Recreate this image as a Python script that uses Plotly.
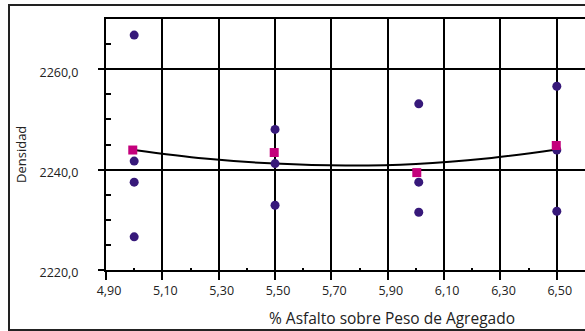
import plotly.graph_objects as go

# Individual densities (circles)
x_pts = [5.00, 5.00, 5.00, 5.00, 5.50, 5.50, 5.50, 6.01, 6.01, 6.01, 6.50, 6.50, 6.50]
y_pts = [2266.8, 2241.7, 2237.5, 2226.6, 2248.0, 2241.2, 2232.9, 2253.1, 2237.5, 2231.5, 2256.6, 2243.9, 2231.7]

# Average densities (squares)
x_avg = [4.995, 5.497, 6.003, 6.498]
y_avg = [2243.9, 2243.4, 2239.4, 2244.8]

# Fitted trend curve
x_fit = [5.00, 5.25, 5.50, 5.75, 6.00, 6.25, 6.50]
y_fit = [2243.9, 2242.2, 2241.2, 2240.8, 2241.1, 2242.2, 2244.0]

x_ticks = [4.90, 5.10, 5.30, 5.50, 5.70, 5.90, 6.10, 6.30, 6.50]
y_ticks = [2220.0, 2240.0, 2260.0]

font = "Open Sans"
fig = go.Figure()
fig.add_trace(go.Scatter(x=x_fit, y=y_fit, mode="lines", line=dict(color="black", width=2, shape="spline"),
                         hoverinfo="skip", showlegend=False))
fig.add_trace(go.Scatter(x=x_pts, y=y_pts, mode="markers",
                         marker=dict(symbol="circle", size=9, color="#37197a"), showlegend=False))
fig.add_trace(go.Scatter(x=x_avg, y=y_avg, mode="markers",
                         marker=dict(symbol="square", size=9, color="#c4007c"), showlegend=False))

fig.update_layout(
    width=585, height=331,
    margin=dict(l=106, r=0, t=19, b=61),
    paper_bgcolor="white", plot_bgcolor="white",
    separators=",.",
    font=dict(family=font, color="#222", size=12),
    xaxis=dict(range=[4.9, 6.6], tickmode="array", tickvals=x_ticks, tickformat=".2f",
               showgrid=True, gridcolor="black", gridwidth=2,
               showline=True, linecolor="black", linewidth=2, mirror=True,
               ticks="outside", ticklen=8, tickwidth=2, tickcolor="black",
               ticklabelshift=3,
               tickfont=dict(size=12.5, family=font, color="#222"),
               minor=dict(tickvals=[5.0, 5.2, 5.4, 5.6, 5.8, 6.0, 6.2, 6.4], ticks="inside",
                          ticklen=2, tickwidth=2, tickcolor="black", showgrid=False),
               zeroline=False),
    yaxis=dict(range=[2220, 2270], tickmode="array", tickvals=y_ticks, tickformat=".1f",
               showgrid=True, gridcolor="black", gridwidth=2,
               showline=True, linecolor="black", linewidth=2,
               ticks="outside", ticklen=6, tickwidth=2, tickcolor="black",
               ticklabelstandoff=17, ticklabelshift=3,
               tickfont=dict(size=12.5, family=font, color="#222"),
               minor=dict(tickvals=[2225, 2230, 2235, 2245, 2250, 2255, 2265], ticks="inside",
                          ticklen=5, tickwidth=2, tickcolor="black", showgrid=False),
               zeroline=False),
    annotations=[
        dict(text="% Asfalto sobre Peso de Agregado", xref="paper", yref="paper",
             x=(392 - 106) / 479, y=-(318 - 270) / 251, xanchor="center", yanchor="middle",
             showarrow=False, font=dict(size=15.5, family=font, color="#222")),
        dict(text="Densidad", xref="paper", yref="paper",
             x=(21 - 106) / 479, y=(270 - 155) / 251, xanchor="center", yanchor="middle",
             textangle=-90, showarrow=False, font=dict(size=13, family=font, color="#222")),
    ],
    shapes=[
        dict(type="rect", xref="paper", yref="paper",
             x0=(9 - 106) / 479, x1=1.2, y0=(270 - 330) / 251, y1=(270 - 5) / 251,
             line=dict(color="#222", width=2), layer="below"),
    ],
)

fig.write_html("out.html")
